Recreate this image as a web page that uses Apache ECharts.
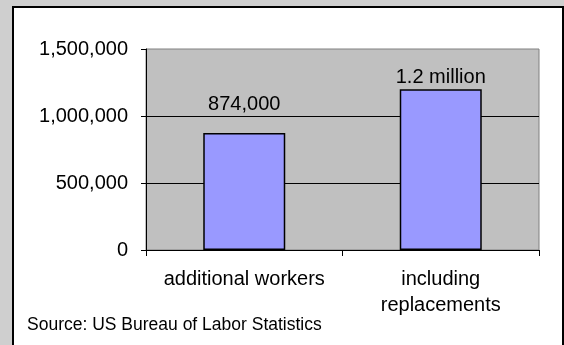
<!DOCTYPE html>
<html>
<head>
<meta charset="utf-8">
<script src="https://cdn.jsdelivr.net/npm/echarts@6/dist/echarts.min.js"></script>
<style>
  html, body { margin: 0; padding: 0; background: #cfcfcf; }
  #chart { width: 564px; height: 345px; }
</style>
</head>
<body>
<div id="chart"></div>
<script>
const categories = ['additional workers', 'including\nreplacements'];
const workers = [874000, 1200000];
const barLabels = ['874,000', '1.2 million'];
const yTicks = [0, 500000, 1000000, 1500000];
const sourceNote = 'Source: US Bureau of Labor Statistics';

const chart = echarts.init(document.getElementById('chart'));
const font = 'Liberation Sans, Arial, sans-serif';

const option = {
  backgroundColor: '#cfcfcf',
  animation: false,
  graphic: [
    {
      type: 'rect',
      z: -10,
      shape: { x: 13, y: 7, width: 550, height: 360 },
      style: { fill: '#ffffff', stroke: '#000000', lineWidth: 2 },
    },
    {
      type: 'text',
      left: 27,
      top: 316,
      style: {
        text: sourceNote,
        font: '17.5px ' + font,
        fill: '#000000',
      },
    },
  ],
  grid: {
    left: 146,
    top: 49,
    right: 25,
    bottom: 95,
    show: true,
    backgroundColor: '#c0c0c0',
    borderColor: '#808080',
    borderWidth: 1,
  },
  xAxis: {
    type: 'category',
    data: categories,
    axisLine: { show: true, lineStyle: { color: '#000000', width: 1 } },
    axisTick: {
      show: true,
      interval: 0,
      alignWithLabel: false,
      length: 6,
      lineStyle: { color: '#000000', width: 1 },
    },
    axisLabel: {
      interval: 0,
      color: '#000000',
      fontFamily: font,
      fontSize: 20,
      lineHeight: 26,
      margin: 16,
    },
  },
  yAxis: {
    type: 'value',
    min: yTicks[0],
    max: yTicks[yTicks.length - 1],
    interval: yTicks[1] - yTicks[0],
    axisLine: { show: true, lineStyle: { color: '#000000', width: 1 } },
    axisTick: { show: true, length: 5, lineStyle: { color: '#000000' } },
    splitLine: {
      show: true,
      showMinLine: false,
      showMaxLine: false,
      lineStyle: { color: '#000000', width: 1 },
    },
    axisLabel: {
      color: '#000000',
      fontFamily: font,
      fontSize: 20,
      margin: 18,
      formatter: (v) => v.toLocaleString('en-US'),
    },
  },
  series: [
    {
      type: 'bar',
      barWidth: 82,
      itemStyle: { color: '#9999ff', borderColor: '#000000', borderWidth: 1.5 },
      label: {
        show: true,
        position: 'top',
        color: '#000000',
        fontFamily: font,
        fontSize: 20,
        formatter: (p) => barLabels[p.dataIndex],
      },
      data: workers.map((v, i) => ({
        value: v,
        label: { distance: i === 0 ? 18 : 2 },
      })),
    },
  ],
};

chart.setOption(option);
window.addEventListener('resize', () => {
  chart.resize();
});
</script>
</body>
</html>
